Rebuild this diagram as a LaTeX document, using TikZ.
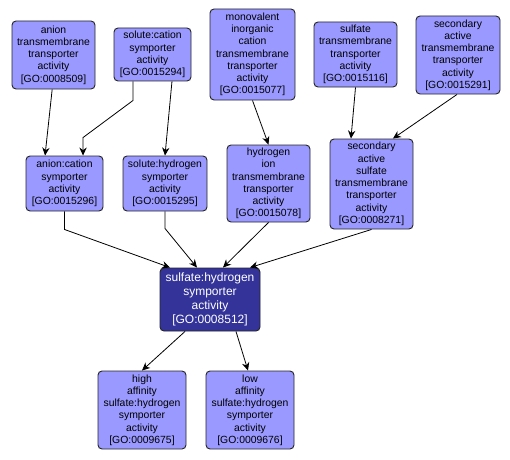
\documentclass[tikz,border=0pt]{standalone}
\usepackage{fontspec}
\setmainfont{Liberation Sans}
\usetikzlibrary{arrows.meta, positioning}
\definecolor{golight}{RGB}{153,153,255}
\definecolor{godark}{RGB}{51,51,153}

\begin{document}
\begin{tikzpicture}[
    x=0.75pt, y=-0.75pt,
    block/.style={rectangle, draw=black!85, line width=0.7pt, rounded corners=3pt, fill=golight, align=center, inner sep=0pt, font=\fontsize{7.8}{9.2}\selectfont},
    mainblock/.style={block, fill=godark, text=white, font=\fontsize{9}{10.4}\selectfont},
    arrow/.style={-{Stealth[length=6pt, width=5.5pt]}, line width=0.6pt}
]

\useasboundingbox (0,0) rectangle (510,460);

\coordinate (anion) at (53.5,55);
\coordinate (solcat) at (152.5,54.5);
\coordinate (monoval) at (252.5,54.5);
\coordinate (sulfate) at (355.5,54.5);
\coordinate (secact) at (458,55);
\coordinate (anioncat) at (64.5,183.5);
\coordinate (solhyd) at (165,183.5);
\coordinate (hydion) at (268.5,183.5);
\coordinate (secsulf) at (371.5,184);
\coordinate (sulfhyd) at (210,299.5);
\coordinate (high) at (142,410);
\coordinate (low) at (250,410);


\node[block, minimum width=62.25pt, minimum height=51pt] (anion_block) at (anion) {anion\\transmembrane\\transporter\\activity\\{[GO:0008509]}};
\node[block, minimum width=57.75pt, minimum height=39.75pt] (solcat_block) at (solcat) {solute:cation\\symporter\\activity\\{[GO:0015294]}};
\node[block, minimum width=63.75pt, minimum height=68.25pt] (monoval_block) at (monoval) {monovalent\\inorganic\\cation\\transmembrane\\transporter\\activity\\{[GO:0015077]}};
\node[block, minimum width=62.25pt, minimum height=48.75pt] (sulfate_block) at (sulfate) {sulfate\\transmembrane\\transporter\\activity\\{[GO:0015116]}};
\node[block, minimum width=63pt, minimum height=58.5pt] (secact_block) at (secact) {secondary\\active\\transmembrane\\transporter\\activity\\{[GO:0015291]}};

\node[block, minimum width=57.75pt, minimum height=41.25pt] (anioncat_block) at (anioncat) {anion:cation\\symporter\\activity\\{[GO:0015296]}};
\node[block, minimum width=63pt, minimum height=41.25pt] (solhyd_block) at (solhyd) {solute:hydrogen\\symporter\\activity\\{[GO:0015295]}};
\node[block, minimum width=62.25pt, minimum height=57.75pt] (hydion_block) at (hydion) {hydrogen\\ion\\transmembrane\\transporter\\activity\\{[GO:0015078]}};
\node[block, minimum width=62.25pt, minimum height=67.5pt] (secsulf_block) at (secsulf) {secondary\\active\\sulfate\\transmembrane\\transporter\\activity\\{[GO:0008271]}};

\node[mainblock, minimum width=75pt, minimum height=47.25pt] (sulfhyd_block) at (sulfhyd) {sulfate:hydrogen\\symporter\\activity\\{[GO:0008512]}};

\node[block, minimum width=66pt, minimum height=58.5pt] (high_block) at (high) {high\\affinity\\sulfate:hydrogen\\symporter\\activity\\{[GO:0009675]}};
\node[block, minimum width=66pt, minimum height=58.5pt] (low_block) at (low) {low\\affinity\\sulfate:hydrogen\\symporter\\activity\\{[GO:0009676]}};


\draw[arrow] ([xshift=-1pt]anion_block.south) -- ([xshift=-14.6pt]anioncat_block.north);
\draw[arrow] ([xshift=-14.6pt]solcat_block.south) -- ++(0,19) -- ([xshift=13.9pt, yshift=13.5pt]anioncat_block.north) -- ([xshift=13.9pt]anioncat_block.north);
\draw[arrow] ([xshift=14.6pt]solcat_block.south) -- (solhyd_block.north);
\draw[arrow] (monoval_block.south) -- (hydion_block.north);
\draw[arrow] (sulfate_block.south) -- ([xshift=-15.4pt]secsulf_block.north);
\draw[arrow] ([xshift=-0.75pt]secact_block.south) -- ([xshift=16.1pt]secsulf_block.north);


\draw[arrow] (anioncat_block.south) -- ++(0,18) -- ([xshift=-30pt]sulfhyd_block.north);
\draw[arrow] (solhyd_block.south) -- ++(0,17) -- ([xshift=-9.75pt]sulfhyd_block.north);
\draw[arrow] (hydion_block.south) -- ([xshift=9.75pt]sulfhyd_block.north);
\draw[arrow] (secsulf_block.south) -- ([xshift=30pt]sulfhyd_block.north);


\draw[arrow] ([xshift=-18.75pt]sulfhyd_block.south) -- (high_block.north);
\draw[arrow] ([xshift=19.5pt]sulfhyd_block.south) -- ([xshift=-1.5pt]low_block.north);

\end{tikzpicture}
\end{document}
